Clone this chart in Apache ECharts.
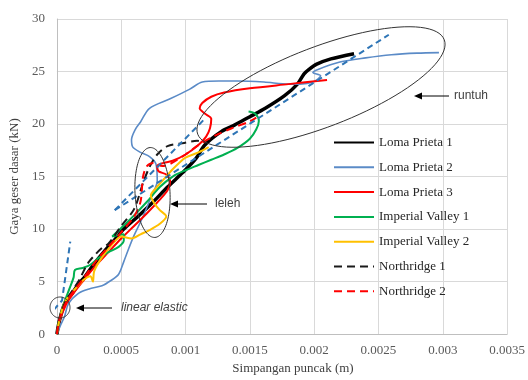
<!DOCTYPE html>
<html>
<head>
<meta charset="utf-8">
<script src="https://cdn.jsdelivr.net/npm/echarts@6/dist/echarts.min.js"></script>
<style>
  html, body { margin: 0; padding: 0; background: #ffffff; }
  #chart { width: 528px; height: 380px; }
</style>
</head>
<body>
<div id="chart"></div>
<script>
// Peak roof displacement (m) against base shear (kN), one curve per ground motion.
const lomaPrieta1 = [
  [0, 0], [0.00002, 1.3], [0.00006, 2.9], [0.00012, 3.9], [0.00017, 4.8], [0.00022, 5.5],
  [0.00029, 6.7], [0.00037, 7.9], [0.00045, 9.0], [0.00052, 10.0], [0.00063, 11.2],
  [0.00075, 12.6], [0.00086, 14.0], [0.00098, 15.4], [0.00108, 16.7], [0.00115, 18.0],
  [0.00128, 19.3], [0.00138, 19.9], [0.0015, 20.7], [0.00162, 21.5], [0.00177, 22.7],
  [0.00187, 23.8], [0.00192, 24.75], [0.00196, 25.2], [0.00202, 25.7], [0.00213, 26.2],
  [0.00231, 26.7]
];
const lomaPrieta2 = [
  [0, 0], [0.00003, 0.9], [0.00006, 1.7], [0.00009, 2.9], [0.00017, 3.9], [0.00025, 4.3],
  [0.00035, 4.6], [0.00042, 5.1], [0.00048, 5.7], [0.00052, 6.9], [0.00056, 8.2],
  [0.0006, 9.4], [0.00067, 11.2], [0.00073, 13.0], [0.00078, 14.6], [0.00077, 16.2],
  [0.00072, 16.9], [0.00065, 17.3], [0.00059, 17.8], [0.00058, 18.5], [0.00061, 19.5],
  [0.00065, 20.2], [0.00072, 21.5], [0.00088, 22.4], [0.00103, 23.3], [0.00113, 24.0],
  [0.00126, 24.1], [0.0014, 24.1], [0.00161, 24.0], [0.0018, 23.8], [0.00189, 23.8],
  [0.00199, 24.0], [0.00205, 24.6], [0.00199, 24.9], [0.00203, 25.2], [0.0022, 25.9],
  [0.0024, 26.3], [0.0026, 26.6], [0.0028, 26.75], [0.00297, 26.8]
];
const lomaPrieta3 = [
  [0, 0], [0.00002, 1.2], [0.00007, 2.8], [0.00013, 3.9], [0.0002, 5.0], [0.0003, 6.5],
  [0.0004, 7.8], [0.0005, 9.1], [0.0006, 10.3], [0.0007, 11.5], [0.0008, 12.8],
  [0.00086, 13.7], [0.00088, 14.5], [0.00085, 15.2], [0.00079, 15.5], [0.00078, 16.0],
  [0.00083, 16.3], [0.0009, 16.5], [0.001, 17.1], [0.0011, 18.0], [0.00116, 18.8],
  [0.00119, 19.6], [0.0012, 20.5], [0.00115, 21.0], [0.00111, 21.5], [0.00113, 22.0],
  [0.0012, 22.6], [0.0013, 23.0], [0.0015, 23.4], [0.0018, 23.8], [0.0021, 24.2]
];
const imperialValley1 = [
  [0, 0], [0.00002, 1.4], [0.00006, 3.1], [0.0001, 4.4], [0.00013, 5.4], [0.00014, 6.1],
  [0.0002, 6.3], [0.00026, 6.6], [0.00033, 7.3], [0.0004, 7.8], [0.00048, 8.3],
  [0.00052, 8.9], [0.00052, 9.5], [0.00047, 9.4], [0.00043, 9.3], [0.0005, 10.1],
  [0.0006, 11.3], [0.0007, 12.6], [0.0008, 14.0], [0.0009, 15.0], [0.001, 15.6],
  [0.0011, 16.1], [0.0012, 16.6], [0.0013, 17.1], [0.0014, 17.7], [0.0015, 18.6],
  [0.00155, 19.5], [0.00157, 20.3], [0.00154, 21.0], [0.00149, 21.2]
];
const imperialValley2 = [
  [0, 0], [0.00002, 1.4], [0.00006, 3.0], [0.00012, 4.0], [0.00018, 4.8], [0.00021, 5.2],
  [0.00026, 5.5], [0.00028, 5.0], [0.00029, 6.0], [0.00035, 7.3], [0.00042, 8.4],
  [0.0005, 9.3], [0.00058, 9.1], [0.00065, 9.5], [0.00072, 9.9], [0.0008, 10.5],
  [0.00085, 11.2], [0.0008, 11.8], [0.00076, 12.4], [0.00073, 13.2], [0.00077, 13.9],
  [0.00085, 15.0], [0.0009, 15.7], [0.00095, 16.3], [0.001, 16.8], [0.0011, 17.3],
  [0.00118, 17.8]
];
const northridge1 = [
  [0, 0], [0.00002, 1.5], [0.00007, 3.2], [0.00013, 4.3], [0.00018, 5.3], [0.00022, 6.3],
  [0.00025, 6.9], [0.0003, 7.6], [0.00035, 8.2], [0.0004, 8.6], [0.00045, 9.4],
  [0.0005, 10.3], [0.0006, 11.9], [0.00067, 14.4], [0.00072, 15.9], [0.00078, 17.1],
  [0.00086, 17.9], [0.00099, 18.2], [0.00109, 18.4], [0.00116, 18.2]
];
const northridge2 = [
  [0, 0], [0.00002, 1.4], [0.00007, 3.0], [0.00013, 4.1], [0.0002, 5.2], [0.0003, 6.9],
  [0.0004, 8.3], [0.0005, 9.7], [0.0006, 11.2], [0.00065, 12.6], [0.00067, 15.0],
  [0.0007, 16.0], [0.00075, 16.3], [0.00082, 16.0], [0.00088, 16.2], [0.001, 17.1],
  [0.0011, 18.0], [0.00123, 18.9], [0.00136, 19.6], [0.00149, 20.2], [0.00155, 20.6]
];

// Idealised stiffness lines
const initialStiffness = [[-0.000075, 1.6], [0.00004, 3.2], [0.000104, 8.8]];
const yieldBranch = [[0.00045, 11.8], [0.00115, 20.5]];
const postYieldBranch = [[0.00045, 11.8], [0.00258, 28.5]];

const seriesNames = ['Loma Prieta 1', 'Loma Prieta 2', 'Loma Prieta 3',
  'Imperial Valley 1', 'Imperial Valley 2', 'Northridge 1', 'Northridge 2'];
const seriesData = [lomaPrieta1, lomaPrieta2, lomaPrieta3,
  imperialValley1, imperialValley2, northridge1, northridge2];
const seriesStyles = [
  { color: '#000000', width: 3.5, type: 'solid' },
  { color: '#5b8bc7', width: 1.6, type: 'solid' },
  { color: '#ff0000', width: 2, type: 'solid' },
  { color: '#00b050', width: 2, type: 'solid' },
  { color: '#ffc000', width: 2, type: 'solid' },
  { color: '#1a1a1a', width: 2, type: [8, 5] },
  { color: '#ff0000', width: 2, type: [8, 5] }
];

const xMax = 0.0035, xStep = 0.0005;
const yMax = 30, yStep = 5;

const serifFont = '"Liberation Serif", "Times New Roman", serif';
const sansFont = '"Liberation Sans", Arial, sans-serif';

const series = seriesNames.map((name, i) => ({
  name: name,
  type: 'line',
  data: seriesData[i],
  symbol: 'none',
  smooth: 0.3,
  lineStyle: seriesStyles[i],
  itemStyle: { color: seriesStyles[i].color },
  z: 2
}));

[initialStiffness, yieldBranch, postYieldBranch].forEach(line => {
  series.push({
    type: 'line',
    data: line,
    symbol: 'none',
    clip: false,
    lineStyle: { color: '#2e75b6', width: 2, type: [6, 4] },
    z: 3
  });
});

// Annotation shapes (pixel space)
function ellipse(cx, cy, rx, ry, deg) {
  const r = deg * Math.PI / 180;
  const pts = [];
  for (let k = 0; k < 96; k++) {
    const t = k / 96 * Math.PI * 2;
    const x = rx * Math.cos(t), y = ry * Math.sin(t);
    pts.push([cx + x * Math.cos(r) + y * Math.sin(r), cy - x * Math.sin(r) + y * Math.cos(r)]);
  }
  return {
    type: 'polygon', z: 10, silent: true,
    shape: { points: pts },
    style: { fill: 'none', stroke: '#333333', lineWidth: 1 }
  };
}
function arrow(xTail, xHead, y) {
  return [
    { type: 'line', z: 10, silent: true,
      shape: { x1: xTail, y1: y, x2: xHead + 6, y2: y },
      style: { stroke: '#000000', lineWidth: 1 } },
    { type: 'polygon', z: 10, silent: true,
      shape: { points: [[xHead, y], [xHead + 8, y - 3.5], [xHead + 8, y + 3.5]] },
      style: { fill: '#000000' } }
  ];
}
function note(x, y, text, italic) {
  return { type: 'text', z: 10, silent: true, x: x, y: y,
    style: { text: text, fill: '#404040', font: (italic ? 'italic ' : '') + '12px ' + sansFont,
      textVerticalAlign: 'middle', verticalAlign: 'middle' } };
}

const graphics = [
  ellipse(321, 87, 132, 40, 21),
  ellipse(152.5, 192.5, 17.5, 45, 3),
  ellipse(60, 307.5, 10, 10.5, 0),
  ...arrow(449, 414, 96), note(454, 96, 'runtuh', false),
  ...arrow(207, 170, 204), note(215, 204, 'leleh', false),
  ...arrow(112, 76, 308), note(121, 308, 'linear elastic', true)
];

const chart = echarts.init(document.getElementById('chart'));
chart.setOption({
  animation: false,
  backgroundColor: '#ffffff',
  grid: { left: 52, right: 18, top: 19, bottom: 41 },
  xAxis: {
    type: 'value', min: 0, max: xMax, interval: xStep,
    name: 'Simpangan puncak (m)', nameLocation: 'middle', nameGap: 26,
    nameTextStyle: { fontFamily: serifFont, fontSize: 13, color: '#404040', padding: [0, 0, 0, 22] },
    axisLine: { show: true, lineStyle: { color: '#bfbfbf' } },
    axisTick: { show: false },
    axisLabel: { fontFamily: serifFont, fontSize: 13, color: '#595959', margin: 10 },
    splitLine: { show: true, lineStyle: { color: '#d9d9d9' } }
  },
  yAxis: {
    type: 'value', min: 0, max: yMax, interval: yStep,
    name: 'Gaya geser dasar (kN)', nameLocation: 'middle', nameGap: 30,
    nameTextStyle: { fontFamily: serifFont, fontSize: 13, color: '#404040' },
    axisLine: { show: true, lineStyle: { color: '#bfbfbf' } },
    axisTick: { show: false },
    axisLabel: { fontFamily: serifFont, fontSize: 13, color: '#595959', margin: 12 },
    splitLine: { show: true, lineStyle: { color: '#d9d9d9' } }
  },
  legend: {
    data: seriesNames,
    orient: 'vertical', left: 333, top: 136, padding: 0,
    itemWidth: 40, itemHeight: 14, itemGap: 11.8,
    itemStyle: { opacity: 0 },
    textStyle: { fontFamily: serifFont, fontSize: 13, color: '#262626' }
  },
  series: series,
  graphic: graphics
});
</script>
</body>
</html>
